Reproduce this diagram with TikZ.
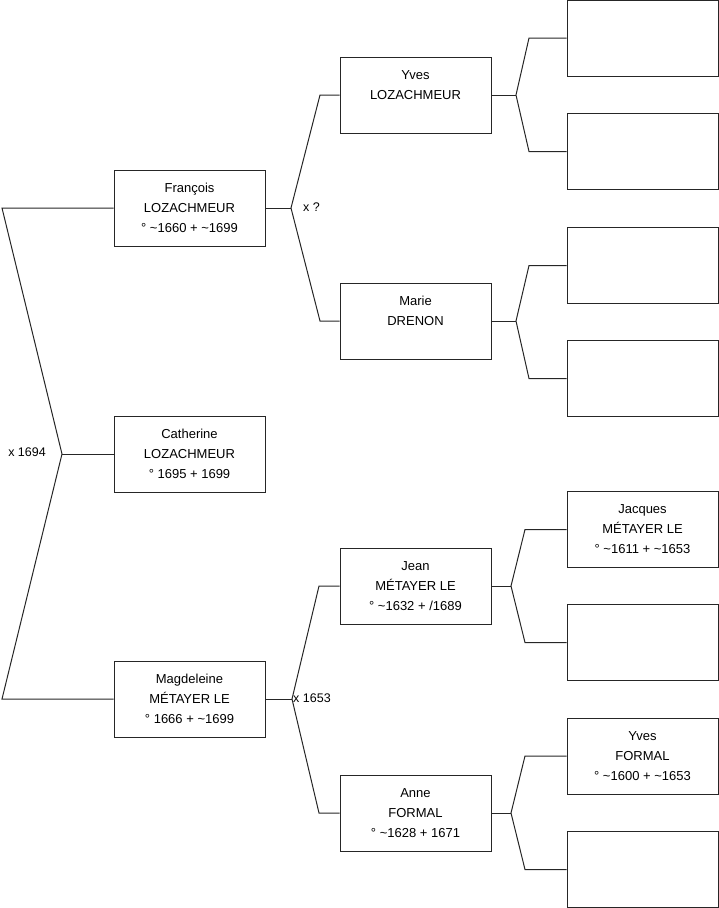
\documentclass[tikz,border=0pt]{standalone}
\usepackage{fontspec}
\setmainfont{Liberation Sans}
\begin{document}
\begin{tikzpicture}[x=1pt,y=-1pt,
  pbox/.style={draw=black!85, line width=1pt, fill=white, minimum width=151pt, minimum height=76pt,
    inner sep=0pt, align=center, font=\fontsize{13}{20}\selectfont},
  conn/.style={draw=black!85, line width=1pt},
  lbl/.style={inner sep=0pt, font=\fontsize{12.5}{15}\selectfont}]
\useasboundingbox (0,0) rectangle (719,908);
% generation 1
\node[pbox] (fr) at (189.5,208) {François\\LOZACHMEUR\\° \textasciitilde1660 + \textasciitilde1699};
\node[pbox] (ca) at (189.5,454) {Catherine\\LOZACHMEUR\\° 1695 + 1699};
\node[pbox] (ma) at (189.5,699) {Magdeleine\\MÉTAYER LE\\° 1666 + \textasciitilde1699};
% generation 2
\node[pbox] (yl) at (415.5,95) {Yves\\LOZACHMEUR\\\phantom{X}};
\node[pbox] (md) at (415.5,321) {Marie\\DRENON\\\phantom{X}};
\node[pbox] (je) at (415.5,586) {Jean\\MÉTAYER LE\\° \textasciitilde1632 + /1689};
\node[pbox] (an) at (415.5,813) {Anne\\FORMAL\\° \textasciitilde1628 + 1671};
% generation 3
\node[pbox] (c1) at (642.5,38) {};
\node[pbox] (c2) at (642.5,151.5) {};
\node[pbox] (c3) at (642.5,265.5) {};
\node[pbox] (c4) at (642.5,378.5) {};
\node[pbox] (c5) at (642.5,529.5) {Jacques\\MÉTAYER LE\\° \textasciitilde1611 + \textasciitilde1653};
\node[pbox] (c6) at (642.5,642.5) {};
\node[pbox] (c7) at (642.5,756) {Yves\\FORMAL\\° \textasciitilde1600 + \textasciitilde1653};
\node[pbox] (c8) at (642.5,869.5) {};
% fork coordinates
\coordinate (L) at (62,454);
\coordinate (Lt) at (2,208);
\coordinate (Lb) at (2,699);
\coordinate (F1) at (291,208);
\coordinate (F1t) at (320,95);
\coordinate (F1b) at (320,321);
\coordinate (F2) at (292,699);
\coordinate (F2t) at (319,586);
\coordinate (F2b) at (319,813);
\coordinate (FY) at (516,95);
\coordinate (FYt) at (529,38);
\coordinate (FYb) at (529,151.5);
\coordinate (FM) at (516,321);
\coordinate (FMt) at (529,265.5);
\coordinate (FMb) at (529,378.5);
\coordinate (FJ) at (511,586);
\coordinate (FJt) at (525,529.5);
\coordinate (FJb) at (525,642.5);
\coordinate (FA) at (511,813);
\coordinate (FAt) at (525,756);
\coordinate (FAb) at (525,869.5);
% connectors
\draw[conn] (fr.west) -- (Lt) -- (L) -- (Lb) -- (ma.west);
\draw[conn] (ca.west) -- (L);
\draw[conn] (fr.east) -- (F1);
\draw[conn] (yl.west) -- (F1t) -- (F1) -- (F1b) -- (md.west);
\draw[conn] (ma.east) -- (F2);
\draw[conn] (je.west) -- (F2t) -- (F2) -- (F2b) -- (an.west);
\draw[conn] (yl.east) -- (FY);
\draw[conn] (c1.west) -- (FYt) -- (FY) -- (FYb) -- (c2.west);
\draw[conn] (md.east) -- (FM);
\draw[conn] (c3.west) -- (FMt) -- (FM) -- (FMb) -- (c4.west);
\draw[conn] (je.east) -- (FJ);
\draw[conn] (c5.west) -- (FJt) -- (FJ) -- (FJb) -- (c6.west);
\draw[conn] (an.east) -- (FA);
\draw[conn] (c7.west) -- (FAt) -- (FA) -- (FAb) -- (c8.west);
% marriage labels
\node[lbl, anchor=east] (m1) at (46,452) {x 1694};
\node[lbl, anchor=west] (m2) at (303,207) {x ?};
\node[lbl, anchor=west] (m3) at (293,698) {x 1653};
\end{tikzpicture}
\end{document}
